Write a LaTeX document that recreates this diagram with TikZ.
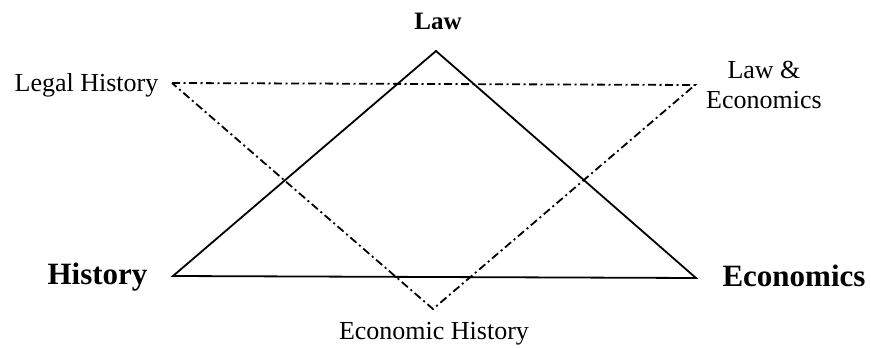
\documentclass[tikz,border=0pt]{standalone}
\usepackage{fontspec}
\setmainfont{Liberation Serif}
\begin{document}
\begin{tikzpicture}[x=1pt,y=-1pt,
  solidedge/.style={line width=1.8pt, line join=miter},
  dashedge/.style={line width=1.8pt, dash pattern=on 8pt off 3.5pt on 2pt off 3.5pt},
  bigbold/.style={font=\fontsize{31}{34}\selectfont\bfseries, inner sep=0pt, anchor=base},
  midbold/.style={font=\fontsize{25}{28}\selectfont\bfseries, inner sep=0pt, anchor=base},
  plain/.style={font=\fontsize{26}{29}\selectfont, inner sep=0pt, anchor=base, align=center}]
\useasboundingbox (0,0) rectangle (871,348);
% solid triangle vertices
\coordinate (law) at (436,51);
\coordinate (hist) at (173,276);
\coordinate (econ) at (696,278);
% dash-dot triangle vertices
\coordinate (lh) at (172,83);
\coordinate (le) at (695,85);
\coordinate (eh) at (433,309);
\draw[solidedge] (law) -- (hist) -- (econ) -- cycle;
\draw[dashedge] (lh) -- (le) -- (eh) -- cycle;
% labels
\node[midbold] (tlaw) at (438,29) {Law};
\node[bigbold] (thist) at (97.5,284) {History};
\node[bigbold] (tecon) at (794,286) {Economics};
\node[plain] (tlh) at (86.5,91) {Legal History};
\node[plain] (teh) at (434,339) {Economic History};
\node[plain] (tlaw2) at (764,78) {Law \&};
\node[plain] (tle) at (764,108) {Economics};
\end{tikzpicture}
\end{document}
